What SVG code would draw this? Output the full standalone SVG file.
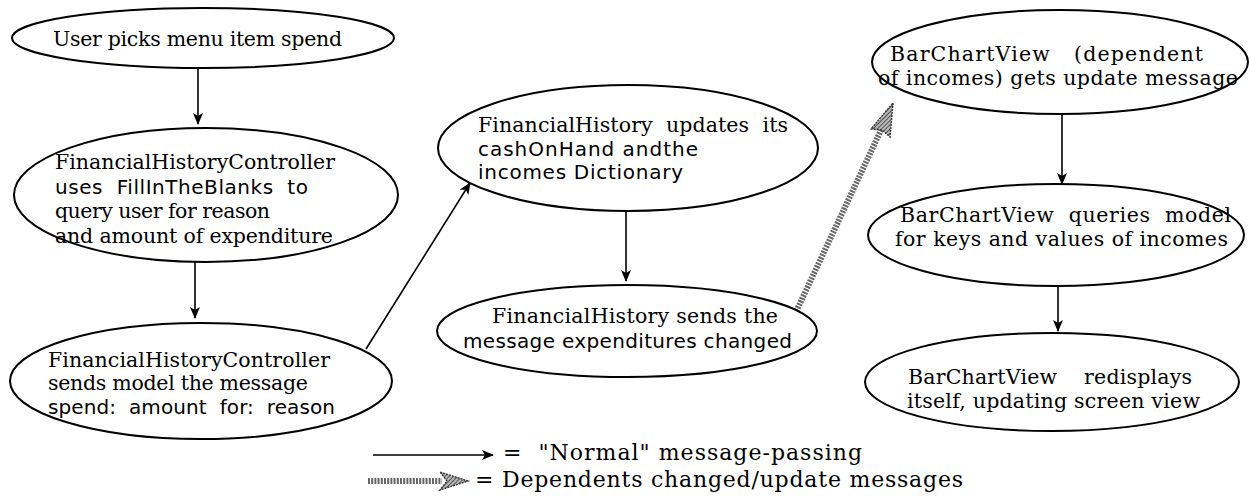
<svg xmlns="http://www.w3.org/2000/svg" width="1250" height="499" viewBox="0 0 1250 499">
<style>
.node{fill:#fff;stroke:#000;stroke-width:2}
text{white-space:pre}
.t{font-family:"DejaVu Serif","Liberation Serif",serif;font-size:20.5px;fill:#000}
.s{font-family:"DejaVu Sans","Liberation Sans",sans-serif;font-size:20px;fill:#000}
.lg{font-family:"DejaVu Serif","Liberation Serif",serif;font-size:22px;fill:#000}
.edge{stroke:#000;stroke-width:1.6;fill:none}
.dep{stroke:#666;stroke-width:6;stroke-dasharray:2 1.2;fill:none}
</style>
<defs>
<marker id="arr" viewBox="0 0 12 10" refX="11" refY="5" markerWidth="12" markerHeight="10" markerUnits="userSpaceOnUse" orient="auto">
<path d="M0,0 L12,5 L0,10 L3,5 z" fill="#000"/>
</marker>
<pattern id="hatch" width="3" height="3" patternUnits="userSpaceOnUse" patternTransform="rotate(45)">
<rect width="3" height="3" fill="#bbb"/>
<line x1="0" y1="0" x2="0" y2="3" stroke="#222" stroke-width="1.4"/>
</pattern>
</defs>
<rect width="1250" height="499" fill="#fff"/>
<g id="connectors">
<line class="edge" x1="198" y1="68" x2="198" y2="124" marker-end="url(#arr)"/>
<line class="edge" x1="195" y1="262" x2="195" y2="318" marker-end="url(#arr)"/>
<line class="edge" x1="366" y1="349" x2="470" y2="183" marker-end="url(#arr)"/>
<line class="edge" x1="626" y1="212" x2="626" y2="281" marker-end="url(#arr)"/>
<line class="edge" x1="1062" y1="115" x2="1062" y2="184" marker-end="url(#arr)"/>
<line class="edge" x1="1058" y1="287" x2="1058" y2="331" marker-end="url(#arr)"/>
<g id="dependency-arrow">
<line class="dep" x1="795" y1="314" x2="882" y2="128"/>
<polygon points="893,103 890,137 882,130 871,129" fill="url(#hatch)" stroke="#333" stroke-width="1.4" stroke-dasharray="2 1"/>
</g>
</g>
<g id="n1">
<ellipse class="node" cx="203" cy="38" rx="191" ry="30"/>
<text class="t" x="53" y="46" textLength="289">User picks menu item spend</text>
</g>
<g id="n2">
<ellipse class="node" cx="206" cy="195" rx="192" ry="67"/>
<text class="t" x="55" y="169" textLength="280">FinancialHistoryController</text>
<text class="s" x="55" y="194" textLength="253">uses  FillInTheBlanks  to</text>
<text class="t" x="55" y="218" textLength="215">query user for reason</text>
<text class="t" x="55" y="243" textLength="278">and amount of expenditure</text>
</g>
<g id="n3">
<ellipse class="node" cx="201" cy="381" rx="191" ry="58"/>
<text class="t" x="48" y="367" textLength="282">FinancialHistoryController</text>
<text class="t" x="48" y="390" textLength="260">sends model the message</text>
<text class="s" x="48" y="414" textLength="287">spend:  amount  for:  reason</text>
</g>
<g id="n4">
<ellipse class="node" cx="628" cy="148" rx="190" ry="63"/>
<text class="t" x="478" y="132" textLength="310">FinancialHistory  updates  its</text>
<text class="s" x="478" y="156" textLength="220">cashOnHand andthe</text>
<text class="s" x="478" y="179" textLength="205">incomes Dictionary</text>
</g>
<g id="n5">
<ellipse class="node" cx="627" cy="331" rx="190" ry="46"/>
<text class="t" x="492" y="323" textLength="286">FinancialHistory sends the</text>
<text class="s" x="463" y="348" textLength="329">message expenditures changed</text>
</g>
<g id="n6">
<ellipse class="node" cx="1060" cy="62" rx="188" ry="52"/>
<text class="t" x="890" y="61" textLength="313">BarChartView   (dependent</text>
<text class="t" x="878" y="85" textLength="360">of incomes) gets update message</text>
</g>
<g id="n7">
<ellipse class="node" cx="1056" cy="235" rx="188" ry="51"/>
<text class="t" x="900" y="222" textLength="331">BarChartView  queries  model</text>
<text class="t" x="895" y="246" textLength="333">for keys and values of incomes</text>
</g>
<g id="n8">
<ellipse class="node" cx="1052" cy="382" rx="187" ry="49"/>
<text class="t" x="908" y="384" textLength="284">BarChartView    redisplays</text>
<text class="t" x="907" y="408" textLength="293">itself, updating screen view</text>
</g>
<g id="legend">
<line class="edge" x1="373" y1="455" x2="493" y2="455" marker-end="url(#arr)"/>
<text class="lg" x="503" y="460" textLength="359">=  "Normal" message-passing</text>
<line class="dep" x1="368" y1="481" x2="442" y2="481"/>
<polygon points="468,481 440,472 447,481 440,490" fill="url(#hatch)" stroke="#333" stroke-width="1.4" stroke-dasharray="2 1"/>
<text class="lg" x="475" y="487" textLength="488">= Dependents changed/update messages</text>
</g>
</svg>
